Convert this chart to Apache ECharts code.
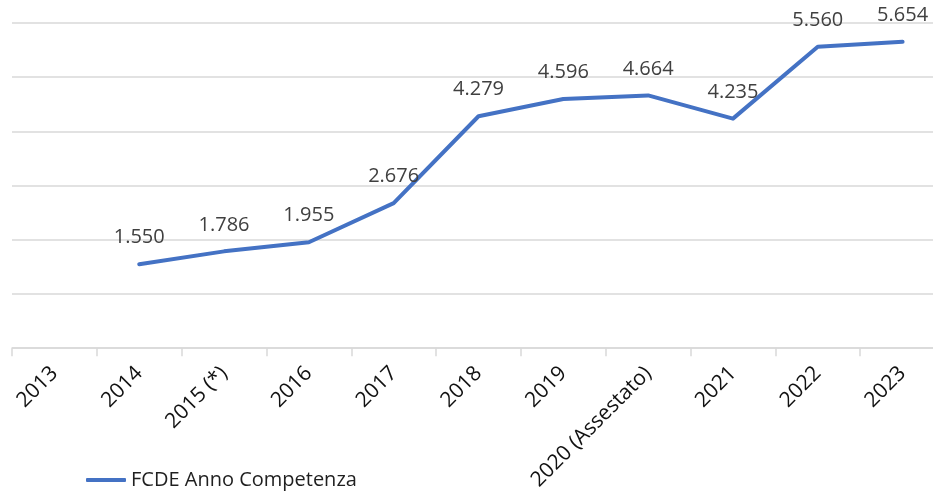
<!DOCTYPE html>
<html>
<head>
<meta charset="utf-8">
<script src="https://cdn.jsdelivr.net/npm/echarts@6/dist/echarts.min.js"></script>
<style>
  html, body { margin: 0; padding: 0; background: #fff; overflow: hidden; }
  #chart { width: 945px; height: 493px; }
</style>
</head>
<body>
<div id="chart"></div>
<script>
// categorie e valori (FCDE, migliaia)
const anni = ['2013', '2014', '2015 (*)', '2016', '2017', '2018', '2019', '2020 (Assestato)', '2021', '2022', '2023'];
const fcde = [null, 1550, 1786, 1955, 2676, 4279, 4596, 4664, 4235, 5560, 5654];
const nomeSerie = 'FCDE Anno Competenza';

// formato italiano 1.550
function formatIt(v) {
    const k = Math.floor(v / 1000);
    const r = String(v % 1000).padStart(3, '0');
    return k > 0 ? k + '.' + r : String(v);
}

const chart = echarts.init(document.getElementById('chart'));
const font = 'Open Sans';
const blu = '#4472c4';

const option = {
    animation: false,
    textStyle: { fontFamily: font },
    grid: {
        left: 12,
        right: 0,
        top: 23,
        bottom: 142
    },
    legend: {
        left: 81,
        top: 465,
        icon: 'roundRect',
        itemWidth: 40,
        itemHeight: 4,
        itemGap: 4,
        itemStyle: { color: blu, opacity: 1 },
        textStyle: { fontSize: 20, color: '#1f1f1f', fontFamily: font },
        data: [nomeSerie]
    },
    xAxis: {
        type: 'category',
        data: anni,
        boundaryGap: true,
        axisLine: { lineStyle: { color: '#d9d9d9', width: 1.5 } },
        axisTick: { show: true, length: 8, lineStyle: { color: '#d9d9d9', width: 1.5 } },
        axisLabel: {
            rotate: 45,
            margin: 22,
            fontSize: 21,
            color: '#111',
            fontFamily: font,
            interval: 0
        }
    },
    yAxis: {
        type: 'value',
        min: 0,
        max: 6000,
        interval: 1000,
        axisLabel: { show: false },
        axisLine: { show: false },
        axisTick: { show: false },
        splitLine: { lineStyle: { color: '#d9d9d9', width: 1.5 } }
    },
    series: [
        {
            name: nomeSerie,
            type: 'line',
            data: fcde,
            symbol: 'circle',
            symbolSize: 1,
            showSymbol: true,
            lineStyle: { color: blu, width: 4, cap: 'round', join: 'round' },
            itemStyle: { color: 'rgba(0,0,0,0)' },
            label: {
                show: true,
                position: 'top',
                distance: 16,
                fontSize: 20,
                color: '#404040',
                fontFamily: font,
                formatter: p => formatIt(p.value)
            }
        }
    ]
};

chart.setOption(option);
</script>
</body>
</html>
